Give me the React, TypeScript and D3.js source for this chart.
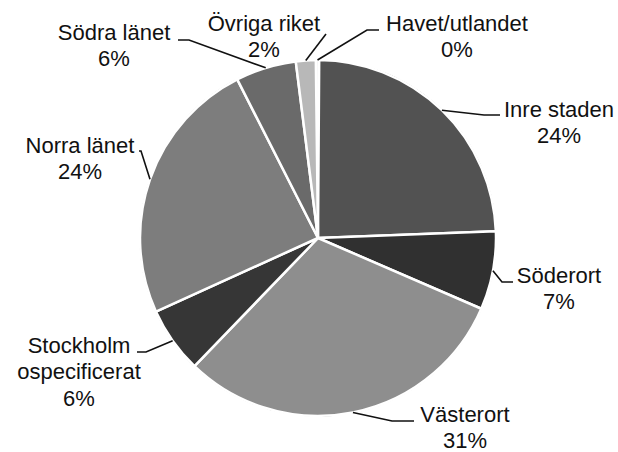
import React, { useEffect, useRef } from 'react';
import * as d3 from 'd3';

// slices clockwise from 12 o'clock (percent)
const categories = [
  'Havet/utlandet',
  'Inre staden',
  'Söderort',
  'Västerort',
  'Stockholm ospecificerat',
  'Norra länet',
  'Södra länet',
  'Övriga riket',
];
const shares = [0.3, 24.3, 7.1, 30.7, 6.0, 24.3, 5.5, 1.8];
const labelLines = [
  ['Havet/utlandet'],
  ['Inre staden'],
  ['Söderort'],
  ['Västerort'],
  ['Stockholm', 'ospecificerat'],
  ['Norra länet'],
  ['Södra länet'],
  ['Övriga riket'],
];
const fills = ['#f4f4f4', '#525252', '#303030', '#8e8e8e', '#363636', '#7d7d7d', '#6a6a6a', '#b8b8b8'];

// label layout: text centre x, first baseline y, elbow point and end of leader
const labelLayout: Record<string, { x: number; y: number; elbow: [number, number]; end: [number, number] }> = {
  'Havet/utlandet': { x: 457, y: 31, elbow: [367, 30], end: [379, 30] },
  'Inre staden': { x: 559, y: 117, elbow: [484, 115], end: [500, 115] },
  'Söderort': { x: 559, y: 283, elbow: [502, 282], end: [513, 282] },
  'Västerort': { x: 465, y: 422, elbow: [392, 421], end: [414, 421] },
  'Stockholm ospecificerat': { x: 79, y: 353, elbow: [146, 352], end: [137, 352] },
  'Norra länet': { x: 80, y: 153, elbow: [141, 151], end: [139, 151] },
  'Södra länet': { x: 114, y: 40, elbow: [189, 40], end: [178, 40] },
  'Övriga riket': { x: 264, y: 31, elbow: [326, 34], end: [326, 34] },
};

const width = 618;
const height = 452;

export default function App() {
  const svgRef = useRef<SVGSVGElement>(null);

  useEffect(() => {
    if (!svgRef.current) return;
    const svg = d3.select(svgRef.current);
    svg.selectAll('*').remove();

    const cx = 318;
    const cy = 238;
    const radius = 178;
    const offset = (-0.7 * Math.PI) / 180;

    const data = categories.map((name, i) => ({
      name,
      value: shares[i],
      lines: labelLines[i],
      fill: fills[i],
    }));

    const pie = d3
      .pie<(typeof data)[number]>()
      .sort(null)
      .value((d) => d.value)
      .startAngle(offset)
      .endAngle(2 * Math.PI + offset);

    const arcs = pie(data);
    const arc = d3.arc<d3.PieArcDatum<(typeof data)[number]>>().innerRadius(0).outerRadius(radius);

    const g = svg.append('g').attr('transform', `translate(${cx},${cy})`);

    g.append('circle').attr('r', radius + 0.5).attr('fill', '#222');

    g.selectAll('path.slice')
      .data(arcs)
      .enter()
      .append('path')
      .attr('class', 'slice')
      .attr('d', arc)
      .attr('fill', (d) => d.data.fill)
      .attr('stroke', '#fff')
      .attr('stroke-width', 2.5)
      .attr('stroke-linejoin', 'round');

    // leader lines
    const edge = (a: d3.PieArcDatum<(typeof data)[number]>): [number, number] => {
      const mid = (a.startAngle + a.endAngle) / 2;
      return [cx + radius * Math.sin(mid), cy - radius * Math.cos(mid)];
    };

    const labels = svg.append('g');
    arcs.forEach((a) => {
      const lay = labelLayout[a.data.name];
      const p = edge(a);
      labels
        .append('path')
        .attr('d', d3.line()([p, lay.elbow, lay.end]))
        .attr('fill', 'none')
        .attr('stroke', '#111')
        .attr('stroke-width', 1.6);

      const t = labels
        .append('text')
        .attr('x', lay.x)
        .attr('y', lay.y)
        .attr('text-anchor', 'middle')
        .attr('font-family', '"Liberation Sans", Arial, sans-serif')
        .attr('font-size', 22)
        .attr('fill', '#111');
      const lines = [...a.data.lines, `${Math.round(a.data.value)}%`];
      lines.forEach((l, i) => {
        t.append('tspan').attr('x', lay.x).attr('dy', i === 0 ? 0 : 26.3).text(l);
      });
    });
  }, []);

  return (
    <svg
      ref={svgRef}
      width={width}
      height={height}
      style={{ position: 'absolute', left: 0, top: 0, background: '#fff' }}
    />
  );
}
